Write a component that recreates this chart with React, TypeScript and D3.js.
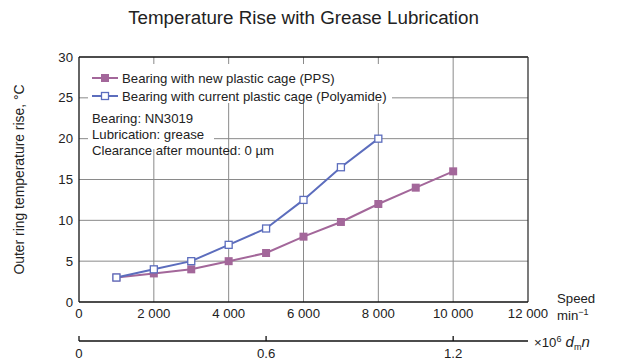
import * as d3 from 'd3';

// Chart data
const speeds = [1000, 2000, 3000, 4000, 5000, 6000, 7000, 8000, 9000, 10000];
const ppsValues = [3, 3.5, 4, 5, 6, 8, 9.8, 12, 14, 16];
const polyamideSpeeds = [1000, 2000, 3000, 4000, 5000, 6000, 7000, 8000];
const polyamideValues = [3, 4, 5, 7, 9, 12.5, 16.5, 20];
const xTicks = [0, 2000, 4000, 6000, 8000, 10000, 12000];
const yTicks = [0, 5, 10, 15, 20, 25, 30];
const dmnTicks = [0, 0.6, 1.2];
const legendLabels = [
  'Bearing with new plastic cage (PPS)',
  'Bearing with current plastic cage (Polyamide)',
];
const notes = ['Bearing: NN3019', 'Lubrication: grease', 'Clearance after mounted: 0 µm'];

const PURPLE = '#a3679a';
const BLUE = '#5c6dbd';
const FONT = '"Liberation Sans", Arial, Helvetica, sans-serif';
const TEXT = '#222';
const FS = 13.2;

export default function App() {
  const width = 621;
  const height = 361;
  const left = 79;
  const right = 528;
  const top = 57;
  const bottom = 302;

  const x = d3.scaleLinear().domain([0, 12000]).range([left, right]);
  const y = d3.scaleLinear().domain([0, 30]).range([bottom, top]);
  // dmn = n * 120 (×10^6)
  const xd = d3.scaleLinear().domain([0, 1.44]).range([left, right]);
  const dmnY = 341;

  const ppsData = speeds.map((s, i) => ({ s, v: ppsValues[i] }));
  const polyData = polyamideSpeeds.map((s, i) => ({ s, v: polyamideValues[i] }));

  const line = d3.line<{ s: number; v: number }>().x(d => x(d.s)).y(d => y(d.v));
  const fmt = (d: number) => d3.format(',')(d).replace(/,/g, ' ');
  const m = 8; // marker size

  return (
    <svg width={width} height={height} style={{ position: 'absolute', left: 0, top: 0, fontFamily: FONT }}>
      <rect width={width} height={height} fill="#fff" />
      <text x={(left + right) / 2} y={24} textAnchor="middle" fontSize={18.8} fill={TEXT}>
        Temperature Rise with Grease Lubrication
      </text>

      {/* grid */}
      {xTicks.slice(1, -1).map(t => (
        <line key={'gx' + t} x1={x(t)} x2={x(t)} y1={top} y2={bottom} stroke="#8a8a8a" strokeWidth={1} />
      ))}
      {yTicks.slice(1, -1).map(t => (
        <line key={'gy' + t} x1={left} x2={right} y1={y(t)} y2={y(t)} stroke="#8a8a8a" strokeWidth={1} />
      ))}

      {/* legend and notes backgrounds hide the grid */}
      <rect x={88} y={64} width={304} height={39} fill="#fff" />
      <rect x={88} y={103} width={126} height={46} fill="#fff" />

      {/* frame */}
      <line x1={left} x2={right} y1={top} y2={top} stroke="#111" strokeWidth={1.3} />
      <line x1={right} x2={right} y1={top} y2={bottom} stroke="#333" strokeWidth={1.3} />
      <line x1={left} x2={left} y1={top} y2={bottom} stroke="#111" strokeWidth={1.3} />
      <line x1={left} x2={right} y1={bottom} y2={bottom} stroke="#111" strokeWidth={1.5} />

      {/* y tick labels */}
      {yTicks.map(t => (
        <text key={'yl' + t} x={left - 6} y={y(t)} dy="0.35em" textAnchor="end" fontSize={FS} fill={TEXT}>
          {t}
        </text>
      ))}
      <text
        transform={`translate(24,${(top + bottom) / 2}) rotate(-90)`}
        textAnchor="middle"
        fontSize={13.9}
        fill={TEXT}
      >
        Outer ring temperature rise, °C
      </text>

      {/* x tick labels */}
      {xTicks.map(t => (
        <text key={'xl' + t} x={x(t)} y={318} textAnchor="middle" fontSize={FS} fill={TEXT}>
          {fmt(t)}
        </text>
      ))}
      <text x={557} y={303} fontSize={FS} fill={TEXT}>Speed</text>
      <text x={557} y={320} fontSize={FS} fill={TEXT}>
        min<tspan dy={-5} fontSize={9}>−1</tspan>
      </text>

      {/* secondary dmn axis */}
      <line x1={xd(0)} x2={xd(1.44)} y1={dmnY} y2={dmnY} stroke="#111" strokeWidth={1.3} />
      {dmnTicks.map(t => (
        <g key={'d' + t}>
          <line x1={xd(t)} x2={xd(t)} y1={dmnY} y2={dmnY - 5} stroke="#111" strokeWidth={1.3} />
          <text x={xd(t)} y={358} textAnchor="middle" fontSize={FS} fill={TEXT}>
            {t}
          </text>
        </g>
      ))}
      <text x={534} y={347} fontSize={FS} fill={TEXT}>
        ×10<tspan dy={-5} fontSize={9}>6</tspan>
        <tspan dy={5} fontStyle="italic" fontSize={15}> d</tspan>
        <tspan dy={3} fontSize={9}>m</tspan>
        <tspan dy={-3} fontStyle="italic" fontSize={15}>n</tspan>
      </text>

      {/* series */}
      <path d={line(ppsData) ?? ''} fill="none" stroke={PURPLE} strokeWidth={2} />
      {ppsData.map(d => (
        <rect key={'p' + d.s} x={x(d.s) - m / 2} y={y(d.v) - m / 2} width={m} height={m} fill={PURPLE} />
      ))}
      <path d={line(polyData) ?? ''} fill="none" stroke={BLUE} strokeWidth={2} />
      {polyData.map(d => (
        <rect
          key={'b' + d.s}
          x={x(d.s) - m / 2 + 0.5}
          y={y(d.v) - m / 2 + 0.5}
          width={m - 1}
          height={m - 1}
          fill="#fff"
          stroke={BLUE}
          strokeWidth={1.3}
        />
      ))}

      {/* legend */}
      {legendLabels.map((label, i) => {
        const ly = 78 + i * 18;
        const color = i === 0 ? PURPLE : BLUE;
        return (
          <g key={label}>
            <line x1={92} x2={118} y1={ly} y2={ly} stroke={color} strokeWidth={2} />
            {i === 0 ? (
              <rect x={105 - m / 2} y={ly - m / 2} width={m} height={m} fill={PURPLE} />
            ) : (
              <rect x={105 - m / 2 + 0.5} y={ly - m / 2 + 0.5} width={m - 1} height={m - 1} fill="#fff" stroke={BLUE} strokeWidth={1.3} />
            )}
            <text x={122} y={ly} dy="0.35em" fontSize={FS} fill={TEXT}>
              {label}
            </text>
          </g>
        );
      })}

      {/* notes */}
      {notes.map((n, i) => (
        <text key={n} x={92} y={118 + i * 16} dy="0.35em" fontSize={FS} fill={TEXT}>
          {n}
        </text>
      ))}
    </svg>
  );
}
